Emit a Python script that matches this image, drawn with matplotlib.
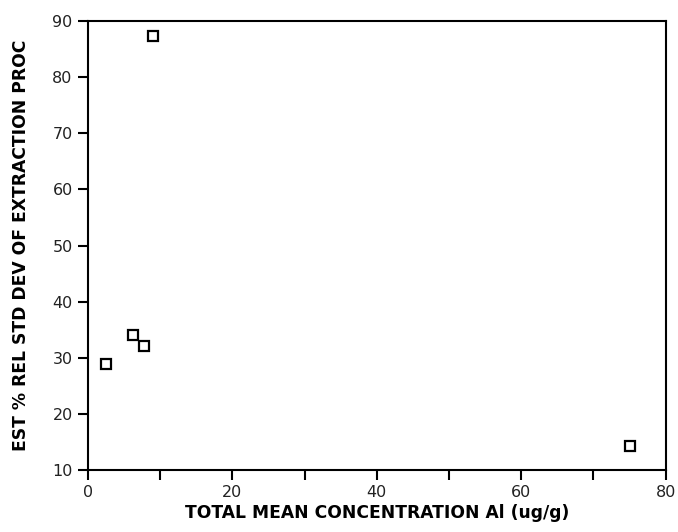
import matplotlib
matplotlib.use("Agg")
import matplotlib.pyplot as plt
from matplotlib.ticker import MultipleLocator

conc_al = [2.5, 6.3, 7.8, 9.0, 75.0]
rsd = [28.9, 34.0, 32.1, 87.3, 14.2]

fig = plt.figure(figsize=(6.78, 5.32), dpi=100)
ax = fig.add_axes([0.1298, 0.1165, 0.852, 0.8440])
ax.plot(conc_al, rsd, linestyle="none", marker="s", markersize=7,
        markerfacecolor="white", markeredgecolor="black", markeredgewidth=1.6)
ax.set_xlim(0, 80)
ax.set_ylim(10, 90)
ax.xaxis.set_major_locator(MultipleLocator(20))
ax.xaxis.set_minor_locator(MultipleLocator(10))
ax.yaxis.set_major_locator(MultipleLocator(10))
ax.tick_params(axis="both", which="major", direction="out", length=7.5, width=1.5,
               labelsize=11.5, colors="black", labelcolor="#222222")
ax.tick_params(axis="x", which="minor", direction="out", length=7.5, width=1.5)
for s in ax.spines.values():
    s.set_linewidth(1.5)
ax.set_xlabel("TOTAL MEAN CONCENTRATION Al (ug/g)", fontsize=12.3, fontweight="bold", labelpad=3)
ax.set_ylabel("EST % REL STD DEV OF EXTRACTION PROC", fontsize=12.3, fontweight="bold", labelpad=16)
fig.savefig("out.png", dpi=100)
